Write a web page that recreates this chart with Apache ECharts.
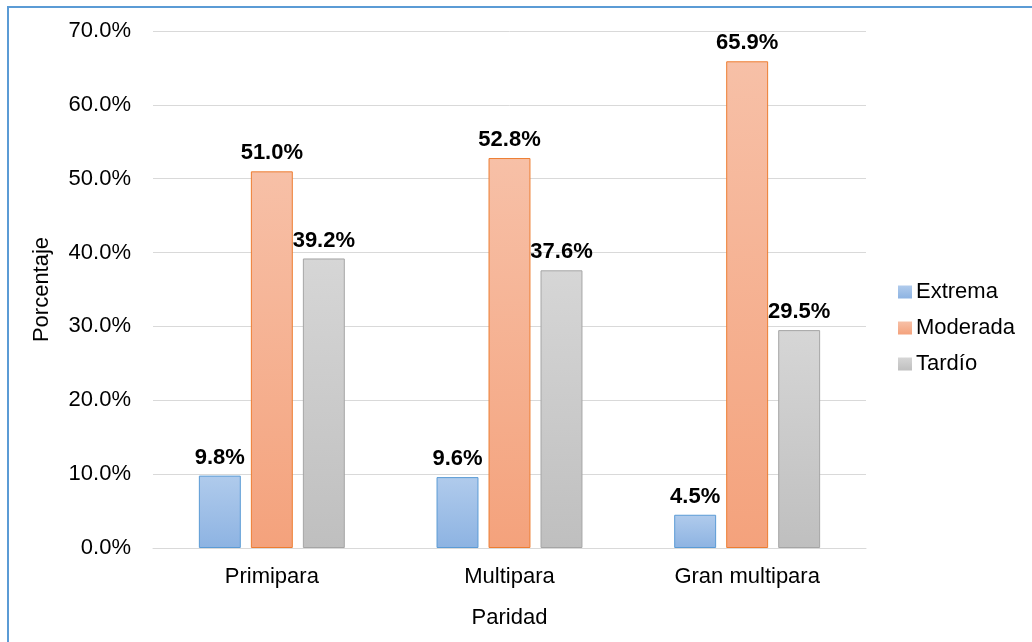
<!DOCTYPE html>
<html>
<head>
<meta charset="utf-8">
<script src="https://cdn.jsdelivr.net/npm/echarts@6/dist/echarts.min.js"></script>
<style>
html,body{margin:0;padding:0;background:#fff;}
#chart{width:1032px;height:642px;}
</style>
</head>
<body>
<div id="chart"></div>
<script>
// Paridad categories and percentage per delay type
var categories = ['Primipara', 'Multipara', 'Gran multipara'];
var extrema = [9.8, 9.6, 4.5];
var moderada = [51.0, 52.8, 65.9];
var tardio = [39.2, 37.6, 29.5];
var yTicks = [0, 10, 20, 30, 40, 50, 60, 70];

var FONT = 'Liberation Sans, Arial, sans-serif';

function grad(top, bottom) {
  return new echarts.graphic.LinearGradient(0, 0, 0, 1, [
    { offset: 0, color: top },
    { offset: 1, color: bottom }
  ]);
}

function barSeries(name, data, top, bottom, border) {
  return {
    name: name,
    type: 'bar',
    data: data,
    barGap: '24%',
    barCategoryGap: '38.6%',
    itemStyle: { color: grad(top, bottom), borderColor: border, borderWidth: 1 },
    label: {
      show: true,
      position: 'top',
      distance: 7,
      formatter: function (p) { return p.value.toFixed(1) + '%'; },
      fontFamily: FONT,
      fontSize: 22,
      fontWeight: 'bold',
      color: '#000'
    }
  };
}

var chart = echarts.init(document.getElementById('chart'), null, { renderer: 'canvas' });
chart.setOption({
  animation: false,
  backgroundColor: '#fff',
  graphic: [{
    type: 'rect',
    shape: { x: 8, y: 7, width: 1100, height: 700 },
    style: { fill: 'none', stroke: '#5b9bd5', lineWidth: 2 },
    silent: true
  }],
  grid: { left: 153, right: 166, top: 31, bottom: 94 },
  legend: {
    orient: 'vertical',
    left: 893,
    top: 276,
    itemWidth: 14,
    itemHeight: 13,
    itemGap: 14,
    icon: 'rect',
    itemStyle: { borderWidth: 0 },
    textStyle: { fontFamily: FONT, fontSize: 22, color: '#000', lineHeight: 22, padding: [0, 0, 0, -1] },
    data: ['Extrema', 'Moderada', 'Tardío']
  },
  xAxis: {
    type: 'category',
    data: categories,
    name: 'Paridad',
    nameLocation: 'middle',
    nameGap: 59,
    nameTextStyle: { fontFamily: FONT, fontSize: 22, color: '#000' },
    axisLine: { lineStyle: { color: '#d9d9d9', width: 1 } },
    axisTick: { show: false },
    axisLabel: { fontFamily: FONT, fontSize: 22, color: '#000', margin: 18 }
  },
  yAxis: {
    type: 'value',
    min: yTicks[0],
    max: yTicks[yTicks.length - 1],
    interval: 10,
    name: 'Porcentaje',
    nameLocation: 'middle',
    nameGap: 100,
    nameRotate: 90,
    nameTextStyle: { fontFamily: FONT, fontSize: 22, color: '#000' },
    axisLine: { show: false },
    axisTick: { show: false },
    axisLabel: {
      fontFamily: FONT, fontSize: 22, color: '#000', margin: 22,
      formatter: function (v) { return v.toFixed(1) + '%'; }
    },
    splitLine: { lineStyle: { color: '#d9d9d9', width: 1 } }
  },
  series: [
    barSeries('Extrema', extrema, '#b0cbec', '#8db3e2', '#5b9bd5'),
    barSeries('Moderada', moderada, '#f7c0a7', '#f4a27c', '#ed7d31'),
    barSeries('Tardío', tardio, '#d6d6d6', '#bfbfbf', '#a5a5a5')
  ]
});
</script>
</body>
</html>
